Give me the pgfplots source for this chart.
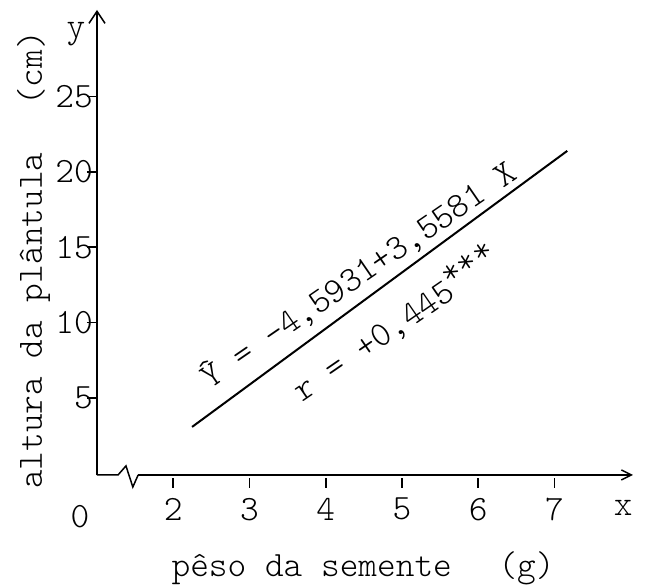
\documentclass[border=0pt]{standalone}
\usepackage{pgfplots}
\pgfplotsset{compat=1.18}
\usetikzlibrary{arrows.meta}
\newcommand\tw{\ttfamily\fontseries{l}\fontsize{17.8pt}{21pt}\selectfont}
\begin{document}
\begin{tikzpicture}
\useasboundingbox (-48.5pt,-57.5pt) rectangle (274pt,236.5pt);
\begin{axis}[
  at={(0,0)}, anchor=south west,
  scale only axis, width=268pt, height=231.5pt,
  xmin=1, xmax=8.03, ymin=0, ymax=30.76,
  axis lines=left, axis line style={draw=none},
  xtick={2,...,7}, ytick={5,10,...,25},
  tick align=outside, major tick length=5pt,
  tick style={black, line width=0.8pt},
  major x tick style={yshift=-2.5pt},
  /pgf/number format/assume math mode=true,
  tick label style={font=\tw},
  xticklabel style={yshift=-4pt},
  yticklabel style={xshift=6.4pt},
  clip=false,
]
% regression line
\addplot[black, line width=1pt] coordinates {(2.247,3.06) (7.168,21.4)};

% axis lines
\draw[line width=0.75pt, -{Straight Barb[length=6pt,width=8pt]}] (axis cs:1,-0.13) -- (axis cs:1,30.76);
\draw[line width=0.75pt] (axis cs:1,-0.13) -- (axis cs:1.276,-0.13) -- (axis cs:1.38,0.47) -- (axis cs:1.47,-0.93) -- (axis cs:1.54,-0.13);
\draw[line width=0.75pt, -{Straight Barb[length=5pt,width=5pt]}] (axis cs:1.54,-0.13) -- (axis cs:8.03,-0.13);

% labels
\node[font=\tw, anchor=center] at (axis cs:0.777,-2.9) {0};
\node[font=\tw, anchor=center] at (axis cs:7.903,-2.33) {x};
\node[font=\tw, anchor=base] at (axis cs:0.724,28.9) {y};
\node[font=\tw, anchor=base] at (axis cs:4.49,-6.91) {pêso da semente~~\hspace{0.26em}(g)};
\node[font=\tw, rotate=90, anchor=base] at (axis cs:0.278,14.15) {altura da plântula~~\hspace{0.26em}(cm)};

% annotations
\node[font=\tw, rotate=34.5, anchor=base west, inner sep=0pt] at (axis cs:2.483,5.51) {\^{Y} = -4,5931+3,5581 X};
\node[font=\tw, rotate=34.5, anchor=base west, inner sep=0pt] at (axis cs:3.69,4.65) {r = +0,445\raisebox{0.35em}{***}};
\end{axis}
\end{tikzpicture}
\end{document}
